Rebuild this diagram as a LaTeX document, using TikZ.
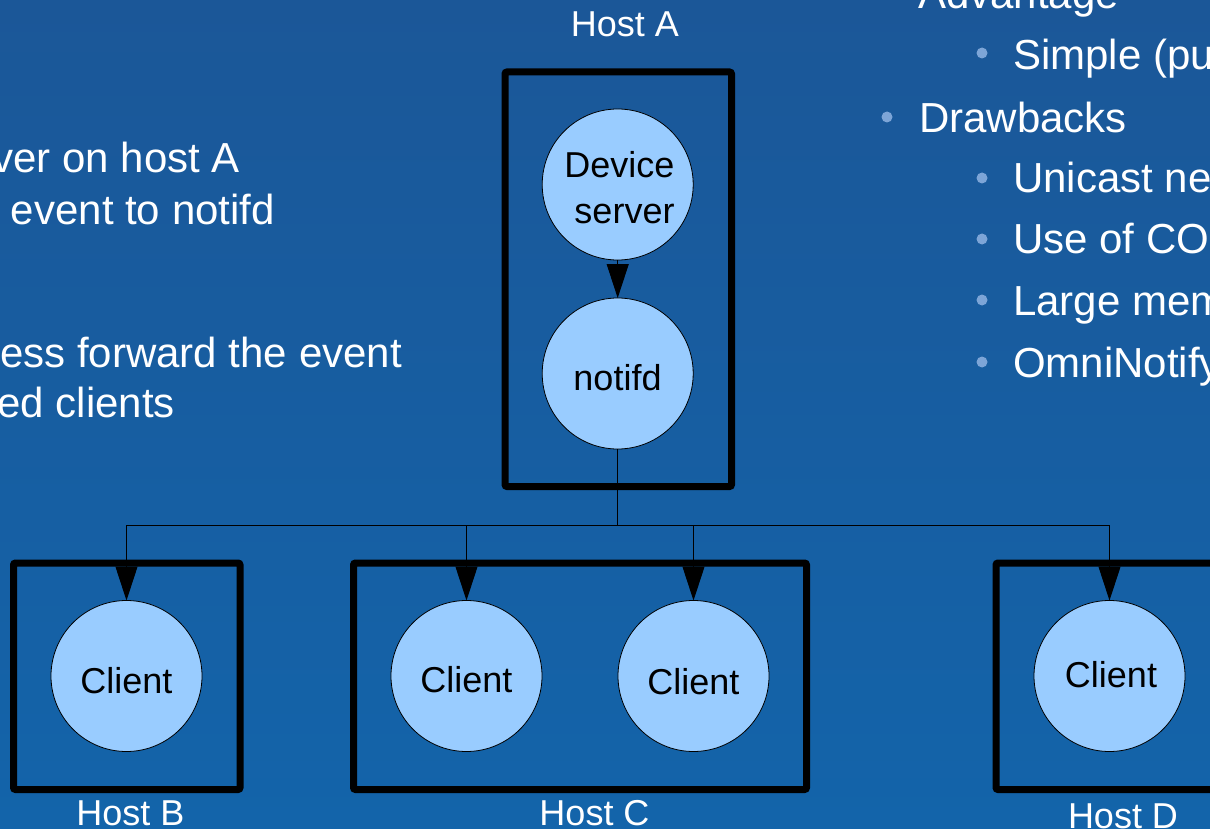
\documentclass[tikz,border=0pt]{standalone}
\usepackage{fontspec}
\setmainfont{Liberation Sans}
\usetikzlibrary{arrows.meta}
\definecolor{bgtop}{RGB}{27,87,152}
\definecolor{bgbot}{RGB}{19,100,170}
\definecolor{circfill}{RGB}{153,204,255}
\definecolor{bulletc}{RGB}{125,165,215}
\begin{document}
\begin{tikzpicture}[x=1pt,y=-1pt,
 hostbox/.style={draw=black,line width=7pt,rounded corners=2pt,inner sep=0pt,outer sep=0pt},
 circ/.style={circle,draw=black,line width=0.8pt,fill=circfill,minimum size=151pt,inner sep=0pt,outer sep=0pt},
 ctext/.style={font=\fontsize{36}{43}\selectfont,text=black,inner sep=0pt,anchor=base},
 hlabel/.style={font=\fontsize{36}{43}\selectfont,text=white,inner sep=0pt,anchor=base},
 btext/.style={font=\fontsize{42}{50}\selectfont,text=white,inner sep=0pt,anchor=base west},
 wline/.style={draw=black,line width=1pt},
 arr/.style={wline,-{Triangle[length=34pt,width=22pt]}},
 bul/.style={fill=bulletc}]
\shade[top color=bgtop,bottom color=bgbot] (0,0) rectangle (1210,829);
\useasboundingbox (0,0) rectangle (1210,829);
\clip (0,0) rectangle (1210,829);

% left text (cut off)
\node[btext,anchor=base east] (l1) at (240,173) {ver on host A};
\node[btext,anchor=base east] (l2) at (275,225) {event to notifd};
\node[btext,anchor=base east] (l3) at (402,367) {ess forward the event};
\node[btext,anchor=base east] (l4) at (175,417) {ed clients};

% right text (cut off)
\node[btext] (r0) at (918,9) {Advantage};
\fill[bul] (982,53) circle (5.5);
\node[btext] (r1) at (1013,70) {Simple (pu};
\fill[bul] (887,117) circle (5.5);
\node[btext] (r2) at (919,133) {Drawbacks};
\fill[bul] (982,178) circle (5.5);
\node[btext] (r3) at (1013,193) {Unicast ne};
\fill[bul] (982,239) circle (5.5);
\node[btext] (r4) at (1013,254) {Use of CO};
\fill[bul] (982,300) circle (5.5);
\node[btext] (r5) at (1013,315) {Large mem};
\fill[bul] (982,362) circle (5.5);
\node[btext] (r6) at (1013,377) {OmniNotify};

% host boxes
\node[hostbox,minimum width=226.5pt,minimum height=414.5pt] (ha) at (618.25,279.25) {};
\node[hostbox,minimum width=226.5pt,minimum height=226.5pt] (hb) at (126.75,676.25) {};
\node[hostbox,minimum width=453pt,minimum height=226.5pt] (hc) at (580,676.25) {};
\node[hostbox,minimum width=226.5pt,minimum height=226.5pt] (hd) at (1109.25,676.25) {};

% host labels
\node[hlabel] (lha) at (625,37) {Host A};
\node[hlabel] (lhb) at (130.5,825) {Host B};
\node[hlabel] (lhc) at (594.5,825) {Host C};
\node[hlabel] (lhd) at (1123,828) {Host D};

% circles
\node[circ] (ds) at (617.7,184.5) {};
\node[circ] (nf) at (617.7,373.5) {};
\node[circ] (cb) at (126.5,676) {};
\node[circ] (c1) at (466.5,676) {};
\node[circ] (c2) at (693.5,676) {};
\node[circ] (cd) at (1109.5,676) {};

\node[ctext] (tds1) at (619.5,178) {Device};
\node[ctext] (tds2) at (624.5,223) {server};
\node[ctext] (tnf) at (617.5,390) {notifd};
\node[ctext] (tcb) at (126.5,693) {Client};
\node[ctext] (tc1) at (466.5,692) {Client};
\node[ctext] (tc2) at (693.5,694) {Client};
\node[ctext] (tcd) at (1111,687) {Client};

% connectors
\coordinate (bus) at (617.7,525);
\draw[arr] (ds) -- (nf);
\draw[wline] (nf.south) -- (bus);
\draw[wline] (cb.north |- bus) -- (cd.north |- bus);
\draw[arr] (cb.north |- bus) -- (cb.north);
\draw[arr] (c1.north |- bus) -- (c1.north);
\draw[arr] (c2.north |- bus) -- (c2.north);
\draw[arr] (cd.north |- bus) -- (cd.north);
\end{tikzpicture}
\end{document}
